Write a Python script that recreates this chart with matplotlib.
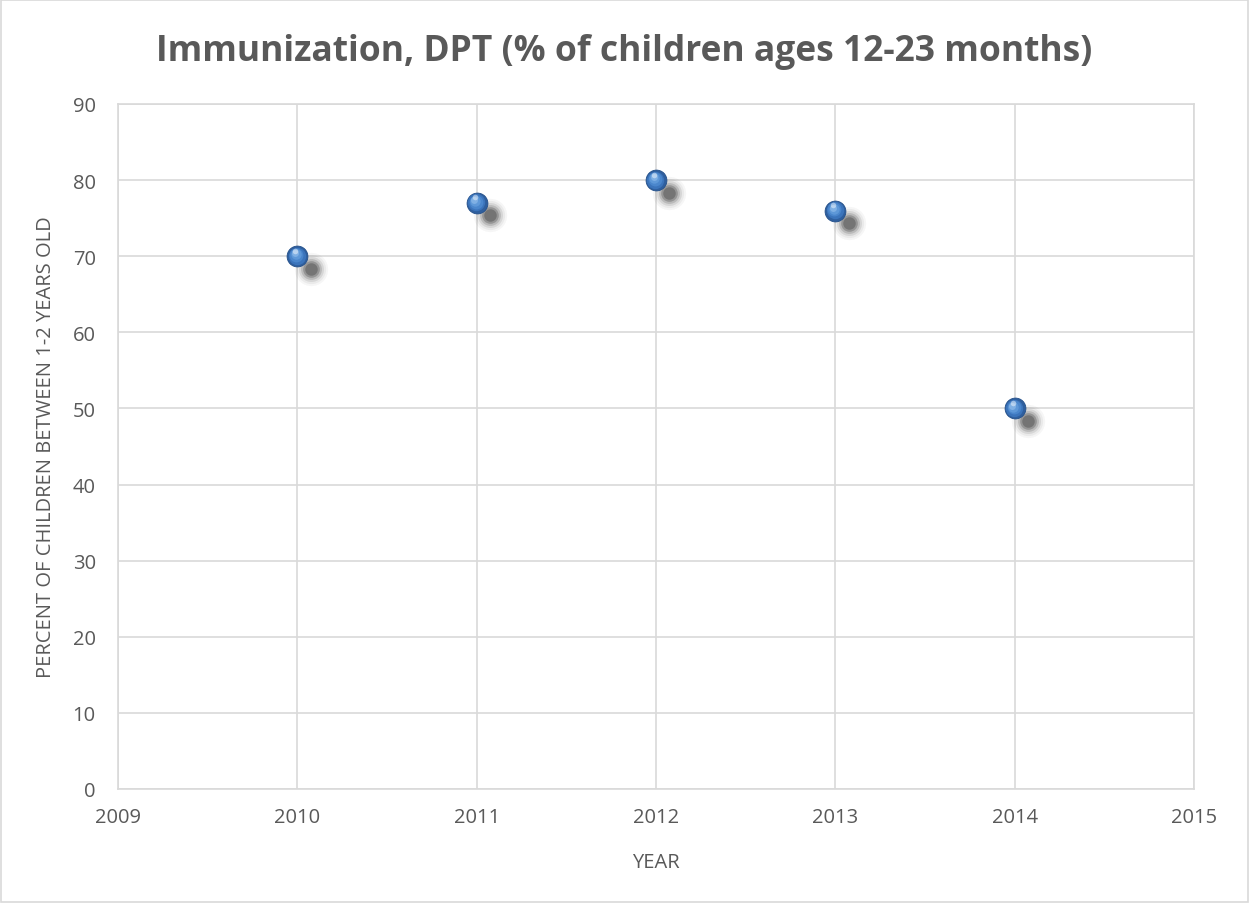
import matplotlib
matplotlib.use("Agg")
import matplotlib.pyplot as plt
import matplotlib.transforms as mtransforms
from matplotlib.patches import Rectangle

plt.rcParams["font.family"] = ["Open Sans", "DejaVu Sans"]

years = [2010, 2011, 2012, 2013, 2014]
percent = [70, 77, 80, 76, 50]

title = "Immunization, DPT (% of children ages 12-23 months)"
xlabel = "YEAR"
ylabel = "PERCENT OF CHILDREN BETWEEN 1-2 YEARS OLD"

TEXT = "#595959"
GRID = "#d9d9d9"

fig = plt.figure(figsize=(12.49, 9.04), dpi=100)
ax = fig.add_axes([118 / 1249, 1 - 790 / 904, (1194 - 118) / 1249, (790 - 105) / 904])

# figure border
fig.patches.append(Rectangle((0.001, 0.001), 0.998, 0.998, transform=fig.transFigure,
                             fill=False, edgecolor=GRID, linewidth=1.2))

ax.set_xlim(2009, 2015)
ax.set_ylim(0, 90)
ax.set_xticks(range(2009, 2016))
ax.set_yticks(range(0, 91, 10))
ax.grid(True, color=GRID, linewidth=1.2)
ax.set_axisbelow(True)
for s in ax.spines.values():
    s.set_color(GRID)
    s.set_linewidth(1.2)
ax.tick_params(length=0, labelsize=14.5, colors=TEXT)
ax.tick_params(axis="y", pad=16)
ax.tick_params(axis="x", pad=13)

# soft shadow
shadow_tr = mtransforms.offset_copy(ax.transData, fig=fig, x=9.5, y=-9, units="points")
for size, alpha in [(24, 0.04), (21, 0.06), (18, 0.1), (15, 0.16), (12, 0.25), (9, 0.3)]:
    ax.plot(years, percent, "o", ms=size, color="#2a2a2a", alpha=alpha,
            markeredgewidth=0, transform=shadow_tr, zorder=3)

# sphere-like markers
ax.plot(years, percent, "o", ms=15, color="#2f5f9e", markeredgecolor="#24508a",
        markeredgewidth=0.6, zorder=4)
for dx, dy, size, col in [(-0.4, 0.4, 12.5, "#3b74bb"), (-0.8, 0.8, 10, "#4a86cc"),
                          (-1.2, 1.3, 7.5, "#5e98d8"), (-1.6, 2, 5, "#7fb0e4")]:
    tr = mtransforms.offset_copy(ax.transData, fig=fig, x=dx, y=dy, units="points")
    ax.plot(years, percent, "o", ms=size, color=col, markeredgewidth=0,
            transform=tr, zorder=5)
hl_tr = mtransforms.offset_copy(ax.transData, fig=fig, x=-1.5, y=4, units="points")
ax.plot(years, percent, "o", ms=4, color="white", alpha=0.45, markeredgewidth=0,
        transform=hl_tr, zorder=6)

ax.set_xlabel(xlabel, fontsize=14.5, color=TEXT, labelpad=18)
ax.set_ylabel(ylabel, fontsize=14.5, color=TEXT, labelpad=12)
fig.text(0.5, 1 - 52 / 904, title, ha="center", va="center", fontsize=25.5,
         fontweight="bold", color=TEXT)

fig.savefig("out.png", dpi=100)
